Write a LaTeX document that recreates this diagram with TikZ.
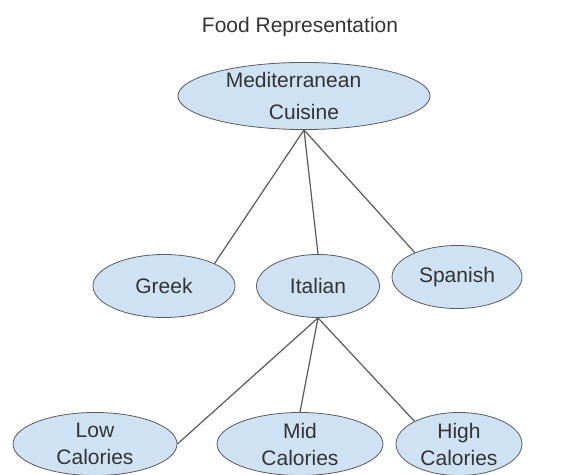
\documentclass[tikz,border=0pt]{standalone}
\usepackage{fontspec}
\setmainfont{Liberation Sans}
\usepackage{xcolor}
\usetikzlibrary{shapes.geometric}
\definecolor{nodeblue}{HTML}{CFE2F3}
\definecolor{linegray}{HTML}{595959}
\definecolor{textgray}{HTML}{333333}

\begin{document}
\begin{tikzpicture}
            [x=0.5pt,y=-0.5pt,font=\fontsize{10.5}{13.5}\selectfont,
             food node/.style={ellipse,draw=linegray,fill=nodeblue,text=textgray,inner sep=0pt,align=center,minimum height=31.5pt},
             every edge/.style={draw=linegray,line width=0.6pt}]
            \useasboundingbox (0,0) rectangle (567,475);
            \node[text=textgray] (title) at (300,27) {Food Representation};

            \node[food node, minimum width=126pt, minimum height=30.5pt] (med) at (304,96) {Mediterranean\hspace*{1em}\\[2.5pt]Cuisine};
            \node[food node, minimum width=71pt] (greek) at (164,286) {Greek};
            \node[food node, minimum width=61.5pt] (italian) at (318,286) {Italian};
            \node[food node, minimum width=65pt] (spanish) at (457,277) {Spanish};
            \node[food node, minimum width=82pt] (low) at (95,444) {Low\\Calories};
            \node[food node, minimum width=83pt] (mid) at (300,444) {Mid\\Calories};
            \node[food node, minimum width=63pt] (high) at (459,444) {High\\Calories};

            \path (med.south) edge (greek.24)
                              edge (italian.north)
                              edge (spanish.150);
            \path (italian.south) edge (low.east)
                                  edge (mid.north)
                                  edge (high.153);
        \end{tikzpicture}
\end{document}
